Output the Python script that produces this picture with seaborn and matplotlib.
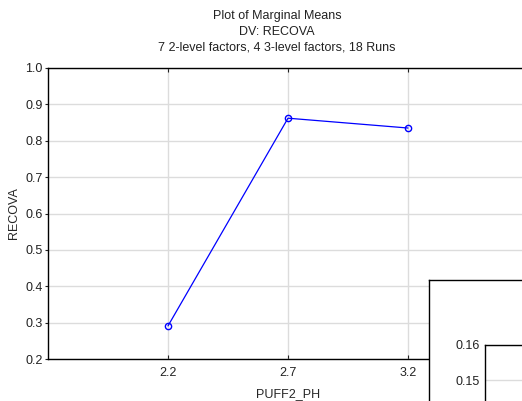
import matplotlib
matplotlib.use("Agg")
import matplotlib.pyplot as plt
import seaborn as sns
import pandas as pd

# data
ph_levels = [2.2, 2.7, 3.2]
recova_means = [0.291, 0.862, 0.835]
x_ticks = [2.2, 2.7, 3.2]
y_ticks = [0.2, 0.3, 0.4, 0.5, 0.6, 0.7, 0.8, 0.9, 1.0]
inset_ticks = [0.15, 0.16]

title_lines = ["Plot of Marginal Means", "DV: RECOVA",
               "7 2-level factors, 4 3-level factors, 18 Runs"]

sns.set_style("white")
plt.rcParams["font.family"] = ["Liberation Sans", "DejaVu Sans"]
plt.rcParams["font.size"] = 9

W, H = 522, 401
fig = plt.figure(figsize=(W / 100, H / 100), dpi=100)
fig.patch.set_facecolor("white")

def box(x0, y0, x1, y1):
    # pixel box (top-left origin) -> figure fraction rect
    return [x0 / W, (H - y1) / H, (x1 - x0) / W, (y1 - y0) / H]

# ---- main axes (runs past the right edge, like the screenshot)
ax = fig.add_axes(box(48, 68, 528, 359))
df = pd.DataFrame({"PUFF2_PH": ph_levels, "RECOVA": recova_means})
sns.lineplot(data=df, x="PUFF2_PH", y="RECOVA", ax=ax, color="#0000ff",
             linewidth=0.9, marker="o", markersize=4.5,
             markerfacecolor="none", markeredgecolor="#0000ff",
             markeredgewidth=1.0)
ax.set_xlim(1.7, 3.7)
ax.set_ylim(0.2, 1.0)
ax.set_xticks(x_ticks)
ax.set_xticklabels([f"{v:.1f}" for v in x_ticks])
ax.set_yticks(y_ticks)
ax.set_yticklabels([f"{v:.1f}" for v in y_ticks])
ax.grid(True, color="#dcdcdc", linewidth=1.0)
ax.set_axisbelow(True)
for s in ax.spines.values():
    s.set_color("black")
    s.set_linewidth(1.0)
ax.tick_params(axis="x", direction="in", length=3, top=True, bottom=True,
               labelsize=9, colors="#222222", pad=6)
ax.tick_params(axis="y", direction="out", length=2, left=True,
               labelsize=9, colors="#222222", pad=2)
ax.set_xlabel("PUFF2_PH", fontsize=9, labelpad=6)
ax.set_ylabel("RECOVA", fontsize=9, labelpad=4)

# ---- overlapping panel in the lower right corner
panel = fig.add_axes(box(429, 280, 560, 440))
panel.set_facecolor("white")
panel.set_xticks([])
panel.set_yticks([])
for side in ["right", "bottom"]:
    panel.spines[side].set_visible(False)
for side in ["left", "top"]:
    panel.spines[side].set_color("black")
    panel.spines[side].set_linewidth(1.0)

inner = fig.add_axes(box(485, 345, 600, 450))
inner.set_facecolor("white")
inner.set_ylim(0.13, 0.16)
inner.set_yticks(inset_ticks)
inner.set_yticklabels([f"{v:.2f}" for v in inset_ticks])
inner.set_xticks([])
inner.grid(True, axis="y", color="#dcdcdc", linewidth=1.0)
for side in ["right", "bottom"]:
    inner.spines[side].set_visible(False)
for side in ["left", "top"]:
    inner.spines[side].set_color("black")
    inner.spines[side].set_linewidth(1.0)
inner.tick_params(axis="y", direction="out", length=2, labelsize=9,
                  colors="#222222", pad=2)

# ---- title block
for txt, y in zip(title_lines, [16, 32, 48]):
    fig.text(277 / W, 1 - y / H, txt, ha="center", va="center",
             fontsize=9, color="#222222")

fig.savefig("out.png", dpi=100)
